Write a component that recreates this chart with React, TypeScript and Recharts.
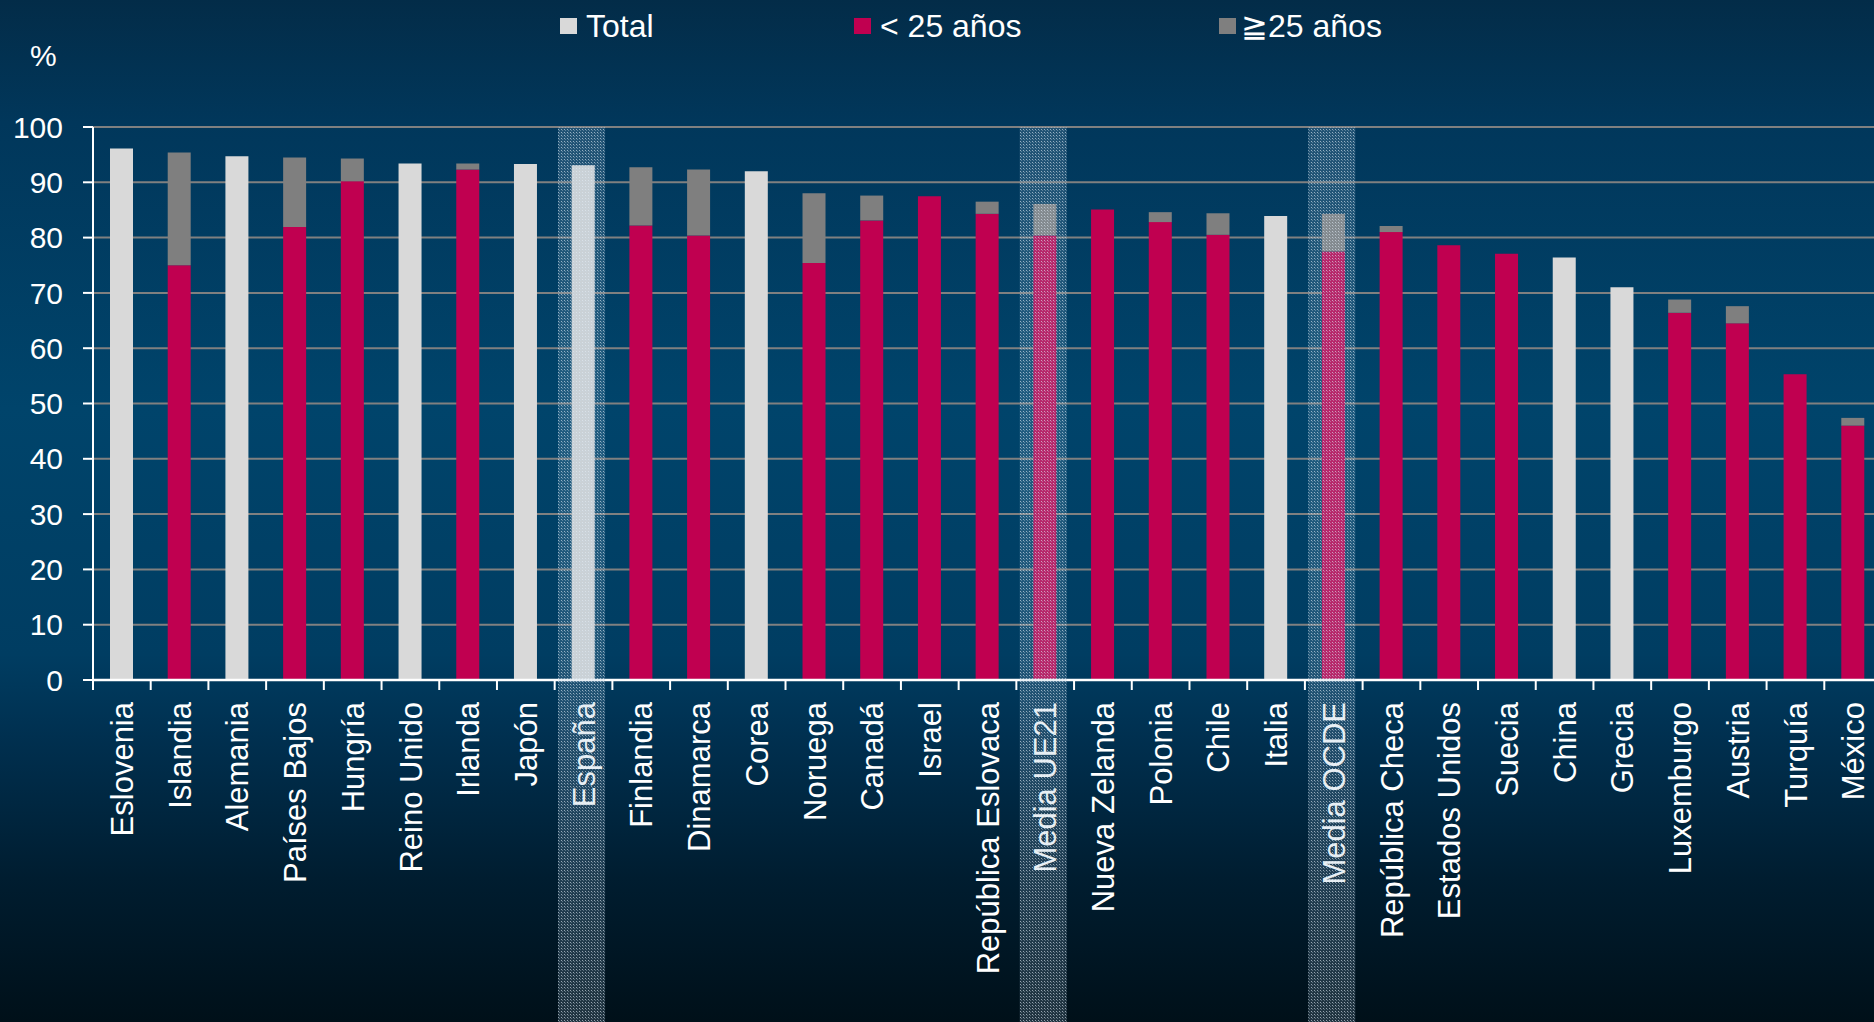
import React from 'react';
import { BarChart, Bar, XAxis, YAxis, CartesianGrid, ReferenceArea } from 'recharts';

const categories = [
  'Eslovenia', 'Islandia', 'Alemania', 'Países Bajos', 'Hungría', 'Reino Unido', 'Irlanda', 'Japón',
  'España', 'Finlandia', 'Dinamarca', 'Corea', 'Noruega', 'Canadá', 'Israel', 'República Eslovaca',
  'Media UE21', 'Nueva Zelanda', 'Polonia', 'Chile', 'Italia', 'Media OCDE', 'República Checa',
  'Estados Unidos', 'Suecia', 'China', 'Grecia', 'Luxemburgo', 'Austria', 'Turquía', 'México',
];

const totalValues = [
  96.1, null, 94.7, null, null, 93.4, null, 93.3,
  93.1, null, null, 92.0, null, null, null, null,
  null, null, null, null, 83.9, null, null,
  null, null, 76.4, 71.0, null, null, null, null,
];

const under25Values = [
  null, 75.0, null, 81.9, 90.2, null, 92.3, null,
  null, 82.2, 80.4, null, 75.4, 83.1, 87.5, 84.3,
  80.4, 85.1, 82.8, 80.5, null, 77.5, 81.0,
  78.6, 77.1, null, null, 66.4, 64.5, 55.3, 46.0,
];

const over25Values = [
  null, 20.4, null, 12.6, 4.1, null, 1.1, null,
  null, 10.5, 11.9, null, 12.6, 4.5, null, 2.2,
  5.7, null, 1.8, 3.9, null, 6.8, 1.1,
  null, null, null, null, 2.4, 3.1, null, 1.4,
];

const yTicks = [0, 10, 20, 30, 40, 50, 60, 70, 80, 90, 100];
const highlighted = ['España', 'Media UE21', 'Media OCDE'];

const seriesNames = ['Total', '< 25 años', '≧25 años'];
const seriesColors = ['#d9d9d9', '#c00050', '#7f7f7f'];

const data = categories.map((c, i) => ({
  name: c,
  total: totalValues[i],
  under25: under25Values[i],
  over25: over25Values[i],
}));

const FONT = '"Liberation Sans", Arial, Helvetica, sans-serif';
const W = 1874;
const H = 1022;
const CHART_W = 1890;
const Y_AXIS_W = 93;
const MARGIN = { top: 127, right: 8, left: 0, bottom: 0 };
const STEP = (CHART_W - MARGIN.left - MARGIN.right - Y_AXIS_W) / categories.length;
const LEGEND_LEFTS = [560, 854, 1219];

const XTick = (props: any) => {
  const { x, y, payload } = props;
  const lx = x - STEP / 2;
  const ty = y + 22;
  return (
    <g>
      <line x1={lx} y1={y} x2={lx} y2={y + 10} stroke="#ffffff" strokeWidth={2} />
      <text
        x={x}
        y={ty}
        transform={`rotate(-90, ${x}, ${ty})`}
        textAnchor="end"
        dy="0.36em"
        fill="#ffffff"
        fontSize={31}
        fontFamily={FONT}
      >
        {payload.value}
      </text>
    </g>
  );
};

const HighlightShape = (props: any) => {
  const { x, y, width } = props;
  const inset = width * 0.092;
  return (
    <rect
      x={x + inset - 2}
      y={y}
      width={width - 2 * inset}
      height={H - y}
      fill="url(#dotPattern)"
    />
  );
};

const PercentLabel = (props: any) => {
  const vb = props.viewBox || { x: 0, y: MARGIN.top };
  return (
    <text x={vb.x + 30} y={vb.y - 61} fill="#ffffff" fontSize={30} fontFamily={FONT}>
      %
    </text>
  );
};

export default function App() {
  return (
    <div
      style={{
        position: 'absolute',
        left: 0,
        top: 0,
        width: W,
        height: H,
        overflow: 'hidden',
        background:
          'linear-gradient(to bottom, #032c48 0%, #01375b 12%, #00446b 40%, #003d62 64%, #003050 72%, #001d30 86%, #001019 100%)',
        fontFamily: FONT,
      }}
    >
      {seriesNames.map((n, i) => (
        <div
          key={n}
          style={{
            position: 'absolute',
            top: 9,
            left: LEGEND_LEFTS[i],
            display: 'flex',
            alignItems: 'center',
            color: '#ffffff',
            fontSize: 32,
            lineHeight: '34px',
            whiteSpace: 'nowrap',
          }}
        >
          <span
            style={{
              display: 'inline-block',
              width: 17,
              height: 16,
              background: seriesColors[i],
              marginRight: i === 2 ? 5 : 9,
            }}
          />
          <span>{n}</span>
        </div>
      ))}
      <BarChart
        width={CHART_W}
        height={H}
        data={data}
        margin={MARGIN}
        barSize={23}
        style={{ position: 'absolute', left: 0, top: 0 }}
      >
        <defs>
          <pattern id="dotPattern" width="3" height="3" patternUnits="userSpaceOnUse">
            <rect width="3" height="3" fill="rgba(150,180,205,0.22)" />
            <rect x="0" y="0" width="1" height="1" fill="rgba(225,235,245,0.6)" />
            <rect x="1" y="1" width="1" height="1" fill="rgba(200,215,230,0.35)" />
          </pattern>
        </defs>
        <CartesianGrid vertical={false} stroke="#808080" strokeWidth={2} />
        <XAxis
          dataKey="name"
          interval={0}
          height={H - 680}
          tickSize={0}
          tickMargin={0}
          tick={<XTick />}
          tickLine={false}
          axisLine={{ stroke: '#ffffff', strokeWidth: 2.5 }}
        />
        <YAxis
          width={Y_AXIS_W}
          domain={[0, 100]}
          ticks={yTicks}
          interval={0}
          tickSize={10}
          tickMargin={20}
          tick={{ fill: '#ffffff', fontSize: 30, fontFamily: FONT }}
          tickLine={{ stroke: '#ffffff', strokeWidth: 2 }}
          axisLine={{ stroke: '#ffffff', strokeWidth: 2 }}
          label={<PercentLabel />}
        />
        <Bar dataKey="total" stackId="a" fill={seriesColors[0]} isAnimationActive={false} />
        <Bar dataKey="under25" stackId="a" fill={seriesColors[1]} isAnimationActive={false} />
        <Bar dataKey="over25" stackId="a" fill={seriesColors[2]} isAnimationActive={false} />
        {highlighted.map((h) => (
          <ReferenceArea
            key={h}
            x1={h}
            x2={h}
            ifOverflow="visible"
            shape={<HighlightShape />}
            {...({ zIndex: 2500 } as any)}
          />
        ))}
      </BarChart>
    </div>
  );
}
